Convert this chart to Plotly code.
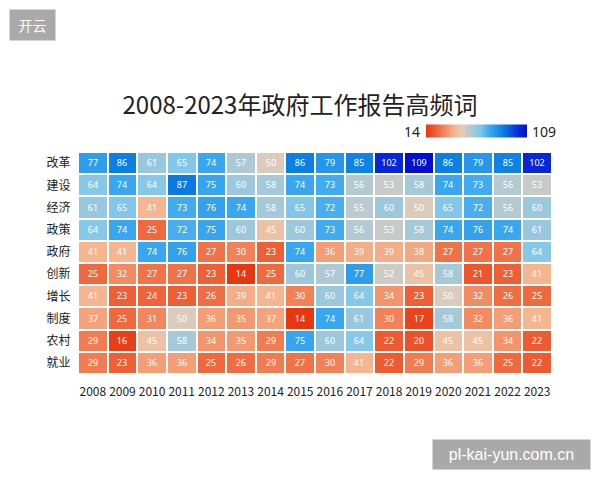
import plotly.graph_objects as go

years = [str(y) for y in range(2008, 2024)]
words = ["改革", "建设", "经济", "政策", "政府", "创新", "增长", "制度", "农村", "就业"]

v_gaige   = [77, 86, 61, 65, 74, 57, 50, 86, 79, 85, 102, 109, 86, 79, 85, 102]
v_jianshe = [64, 74, 64, 87, 75, 60, 58, 74, 73, 56, 53, 58, 74, 73, 56, 53]
v_jingji  = [61, 65, 41, 73, 76, 74, 58, 65, 72, 55, 60, 50, 65, 72, 56, 60]
v_zhengce = [64, 74, 25, 72, 75, 60, 45, 60, 73, 56, 53, 58, 74, 76, 74, 61]
v_zhengfu = [41, 41, 74, 76, 27, 30, 23, 74, 36, 39, 39, 38, 27, 27, 27, 64]
v_chuangxin = [25, 32, 27, 27, 23, 14, 25, 60, 57, 77, 52, 45, 58, 21, 23, 41]
v_zengzhang = [41, 23, 24, 23, 26, 39, 41, 30, 60, 64, 34, 23, 50, 32, 26, 25]
v_zhidu   = [37, 25, 31, 50, 36, 35, 37, 14, 74, 61, 30, 17, 58, 32, 36, 41]
v_nongcun = [29, 16, 45, 58, 34, 35, 29, 75, 60, 64, 22, 20, 45, 45, 34, 22]
v_jiuye   = [29, 23, 36, 36, 25, 26, 29, 27, 30, 41, 22, 29, 36, 36, 25, 22]

z = [v_gaige, v_jianshe, v_jingji, v_zhengce, v_zhengfu,
     v_chuangxin, v_zengzhang, v_zhidu, v_nongcun, v_jiuye]
zmin, zmax = 14, 109

colorscale = [
    [0.0, "#e8360f"],
    [0.12, "#f06a40"],
    [0.28, "#f5b58e"],
    [0.36, "#e6ccb6"],
    [0.46, "#a8c9d8"],
    [0.54, "#80c6ea"],
    [0.63, "#3aa8f0"],
    [0.76, "#0a7ee2"],
    [0.92, "#0a28d8"],
    [1.0, "#0010d0"],
]

L, R, T, B = 78, 48, 152, 106
PW, PH = 600 - L - R, 480 - T - B

def px(x):
    return (x - L) / PW

def py(y):
    return (480 - B - y) / PH

fig = go.Figure(go.Heatmap(
    z=z, x=years, y=words,
    zmin=zmin, zmax=zmax,
    colorscale=colorscale,
    xgap=2, ygap=2,
    texttemplate="%{z}",
    textfont=dict(color="white", size=9, family="Noto Sans"),
    colorbar=dict(
        orientation="h",
        thickness=13, thicknessmode="pixels",
        len=101, lenmode="pixels",
        x=px(476.5), xanchor="center",
        y=py(131.5), yanchor="middle",
        xpad=0, ypad=0,
        outlinewidth=0,
        showticklabels=False, ticks="",
    ),
))

fig.update_layout(
    width=600, height=480,
    margin=dict(l=L, r=R, t=T, b=B),
    paper_bgcolor="white", plot_bgcolor="white",
    font=dict(family="Noto Sans CJK SC", color="#222"),
    title=dict(text="2008-2023年政府工作报告高频词", x=0.5, xanchor="center",
               y=1 - 106 / 480, yanchor="middle",
               font=dict(size=24, color="#222", family="Noto Sans CJK SC")),
    xaxis=dict(showgrid=False, zeroline=False, ticks="outside", ticklen=7,
               tickcolor="rgba(0,0,0,0)", tickfont=dict(size=12, color="#222"),
               side="bottom", type="category"),
    yaxis=dict(showgrid=False, zeroline=False, ticks="outside", ticklen=4,
               tickcolor="rgba(0,0,0,0)", autorange="reversed",
               tickfont=dict(size=12, color="#222"), type="category"),
    annotations=[
        dict(text="14", xref="paper", yref="paper", x=px(422), y=py(131.5),
             xanchor="right", yanchor="middle", showarrow=False,
             font=dict(size=14, color="#222", family="Noto Sans")),
        dict(text="109", xref="paper", yref="paper", x=px(530), y=py(131.5),
             xanchor="left", yanchor="middle", showarrow=False,
             font=dict(size=14, color="#222", family="Noto Sans")),
        dict(text="开云", xref="paper", yref="paper", x=px(32), y=py(25),
             xanchor="center", yanchor="middle", showarrow=False, bgcolor="#a9a9a9",
             width=35, height=20, borderpad=5, font=dict(size=14, color="white")),
        dict(text="pl-kai-yun.com.cn", xref="paper", yref="paper", x=px(511.5),
             y=py(454.5), xanchor="center", yanchor="middle", showarrow=False,
             bgcolor="#a9a9a9", width=147, height=19, borderpad=5,
             font=dict(size=16, color="white", family="Liberation Sans")),
    ],
)

fig.write_html("out.html")
